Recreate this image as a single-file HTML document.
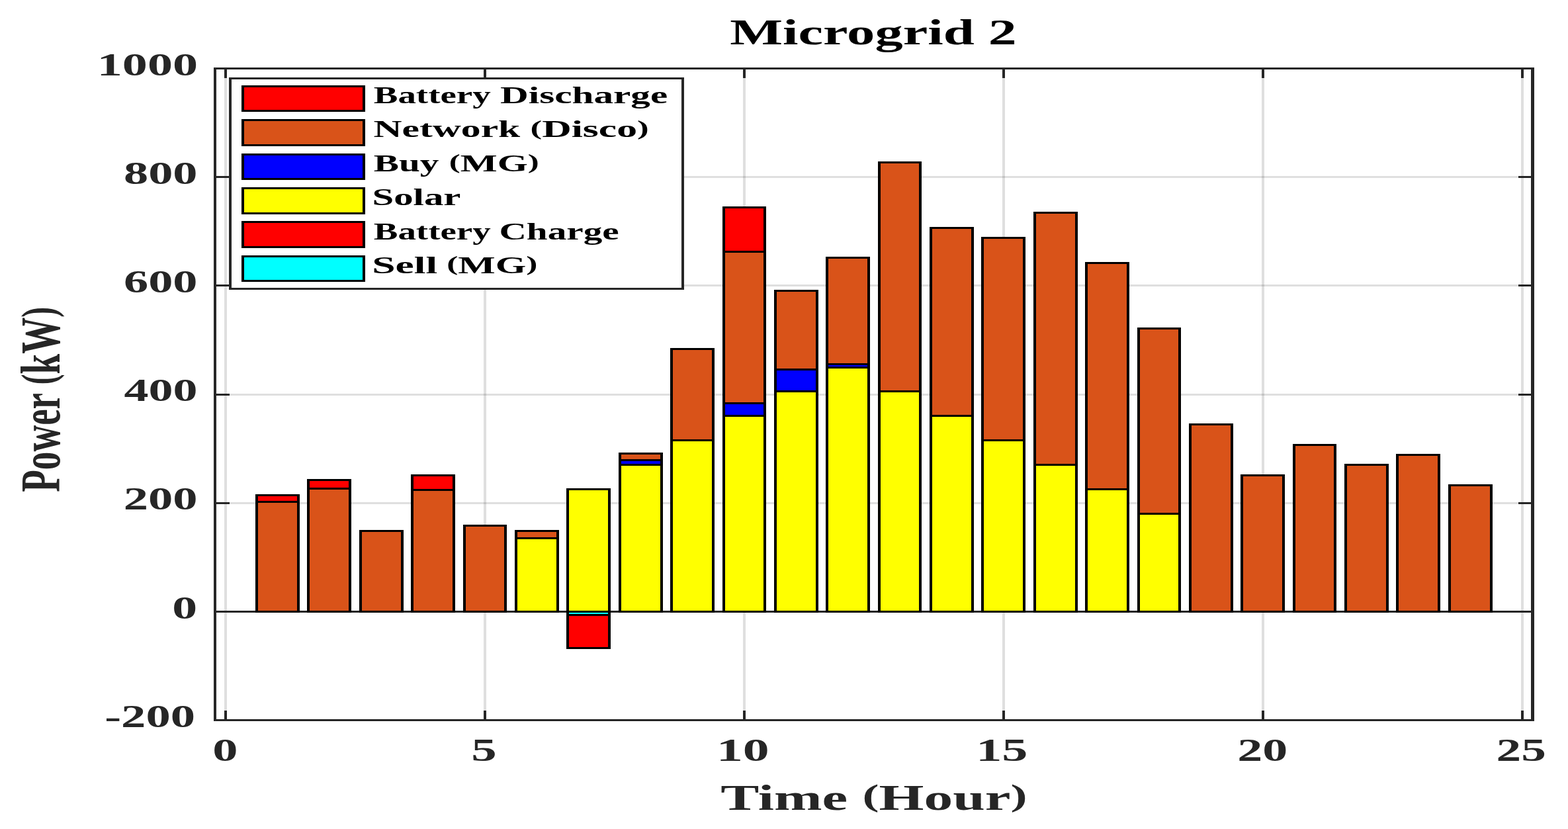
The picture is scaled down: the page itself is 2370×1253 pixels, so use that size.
<!DOCTYPE html>
<html lang="en">
<head>
<meta charset="utf-8">
<title>Microgrid 2</title>
<style>
html,body{margin:0;padding:0;background:#fff;}
body{width:2370px;height:1253px;overflow:hidden;}
svg{display:block;}
svg text{font-family:"Liberation Serif","DejaVu Serif",serif;font-weight:bold;}
</style>
</head>
<body>
<svg width="2370" height="1253" viewBox="0 0 2370 1253">
<rect x="0" y="0" width="2370" height="1253" fill="#fff"/>
<g shape-rendering="crispEdges">
<g fill="#262626" fill-opacity="0.15">
<rect x="339" y="105" width="4" height="982" fill="#262626"/>
<rect x="731" y="105" width="4" height="982" fill="#262626"/>
<rect x="1123" y="105" width="4" height="982" fill="#262626"/>
<rect x="1515" y="105" width="4" height="982" fill="#262626"/>
<rect x="1907" y="105" width="4" height="982" fill="#262626"/>
<rect x="2299" y="105" width="4" height="982" fill="#262626"/>
<rect x="327" y="266" width="1987" height="3" fill="#262626"/>
<rect x="327" y="430" width="1987" height="3" fill="#262626"/>
<rect x="327" y="595" width="1987" height="3" fill="#262626"/>
<rect x="327" y="759" width="1987" height="3" fill="#262626"/>
</g>
<rect x="339" y="105" width="4" height="13" fill="#262626"/>
<rect x="339" y="1074" width="4" height="13" fill="#262626"/>
<rect x="731" y="105" width="4" height="13" fill="#262626"/>
<rect x="731" y="1074" width="4" height="13" fill="#262626"/>
<rect x="1123" y="105" width="4" height="13" fill="#262626"/>
<rect x="1123" y="1074" width="4" height="13" fill="#262626"/>
<rect x="1515" y="105" width="4" height="13" fill="#262626"/>
<rect x="1515" y="1074" width="4" height="13" fill="#262626"/>
<rect x="1907" y="105" width="4" height="13" fill="#262626"/>
<rect x="1907" y="1074" width="4" height="13" fill="#262626"/>
<rect x="2299" y="105" width="4" height="13" fill="#262626"/>
<rect x="2299" y="1074" width="4" height="13" fill="#262626"/>
<rect x="327" y="266" width="20" height="3" fill="#262626"/>
<rect x="2295" y="266" width="19" height="3" fill="#262626"/>
<rect x="327" y="430" width="20" height="3" fill="#262626"/>
<rect x="2295" y="430" width="19" height="3" fill="#262626"/>
<rect x="327" y="595" width="20" height="3" fill="#262626"/>
<rect x="2295" y="595" width="19" height="3" fill="#262626"/>
<rect x="327" y="759" width="20" height="3" fill="#262626"/>
<rect x="2295" y="759" width="19" height="3" fill="#262626"/>
<rect x="327" y="923" width="1987" height="3" fill="#262626"/>
<rect x="386" y="747" width="67" height="179" fill="#000"/>
<rect x="390" y="750" width="59" height="7" fill="#ff0000"/>
<rect x="390" y="760" width="59" height="163" fill="#d95319"/>
<rect x="464" y="724" width="67" height="202" fill="#000"/>
<rect x="468" y="727" width="59" height="10" fill="#ff0000"/>
<rect x="468" y="740" width="59" height="183" fill="#d95319"/>
<rect x="543" y="801" width="67" height="125" fill="#000"/>
<rect x="547" y="804" width="59" height="119" fill="#d95319"/>
<rect x="621" y="717" width="67" height="209" fill="#000"/>
<rect x="625" y="720" width="59" height="19" fill="#ff0000"/>
<rect x="625" y="742" width="59" height="181" fill="#d95319"/>
<rect x="700" y="793" width="66" height="133" fill="#000"/>
<rect x="704" y="796" width="58" height="127" fill="#d95319"/>
<rect x="778" y="801" width="67" height="125" fill="#000"/>
<rect x="782" y="804" width="59" height="8" fill="#d95319"/>
<rect x="782" y="815" width="59" height="108" fill="#ffff00"/>
<rect x="856" y="738" width="67" height="188" fill="#000"/>
<rect x="860" y="741" width="59" height="182" fill="#ffff00"/>
<rect x="935" y="684" width="67" height="242" fill="#000"/>
<rect x="939" y="687" width="59" height="7" fill="#d95319"/>
<rect x="939" y="697" width="59" height="4" fill="#0000ff"/>
<rect x="939" y="704" width="59" height="219" fill="#ffff00"/>
<rect x="1013" y="526" width="67" height="400" fill="#000"/>
<rect x="1017" y="529" width="59" height="135" fill="#d95319"/>
<rect x="1017" y="667" width="59" height="256" fill="#ffff00"/>
<rect x="1092" y="312" width="66" height="614" fill="#000"/>
<rect x="1096" y="315" width="58" height="64" fill="#ff0000"/>
<rect x="1096" y="382" width="58" height="226" fill="#d95319"/>
<rect x="1096" y="611" width="58" height="16" fill="#0000ff"/>
<rect x="1096" y="630" width="58" height="293" fill="#ffff00"/>
<rect x="1170" y="438" width="67" height="488" fill="#000"/>
<rect x="1174" y="441" width="59" height="116" fill="#d95319"/>
<rect x="1174" y="560" width="59" height="30" fill="#0000ff"/>
<rect x="1174" y="593" width="59" height="330" fill="#ffff00"/>
<rect x="1248" y="388" width="67" height="538" fill="#000"/>
<rect x="1252" y="391" width="59" height="158" fill="#d95319"/>
<rect x="1252" y="552" width="59" height="2" fill="#0000ff"/>
<rect x="1252" y="557" width="59" height="366" fill="#ffff00"/>
<rect x="1327" y="244" width="66" height="682" fill="#000"/>
<rect x="1331" y="247" width="58" height="343" fill="#d95319"/>
<rect x="1331" y="593" width="58" height="330" fill="#ffff00"/>
<rect x="1405" y="343" width="67" height="583" fill="#000"/>
<rect x="1409" y="346" width="59" height="281" fill="#d95319"/>
<rect x="1409" y="630" width="59" height="293" fill="#ffff00"/>
<rect x="1483" y="358" width="67" height="568" fill="#000"/>
<rect x="1487" y="361" width="59" height="303" fill="#d95319"/>
<rect x="1487" y="667" width="59" height="256" fill="#ffff00"/>
<rect x="1562" y="320" width="67" height="606" fill="#000"/>
<rect x="1566" y="323" width="59" height="378" fill="#d95319"/>
<rect x="1566" y="704" width="59" height="219" fill="#ffff00"/>
<rect x="1640" y="396" width="67" height="530" fill="#000"/>
<rect x="1644" y="399" width="59" height="339" fill="#d95319"/>
<rect x="1644" y="741" width="59" height="182" fill="#ffff00"/>
<rect x="1719" y="495" width="66" height="431" fill="#000"/>
<rect x="1723" y="498" width="58" height="277" fill="#d95319"/>
<rect x="1723" y="778" width="58" height="145" fill="#ffff00"/>
<rect x="1797" y="640" width="67" height="286" fill="#000"/>
<rect x="1801" y="643" width="59" height="280" fill="#d95319"/>
<rect x="1875" y="717" width="67" height="209" fill="#000"/>
<rect x="1879" y="720" width="59" height="203" fill="#d95319"/>
<rect x="1954" y="671" width="66" height="255" fill="#000"/>
<rect x="1958" y="674" width="58" height="249" fill="#d95319"/>
<rect x="2032" y="701" width="67" height="225" fill="#000"/>
<rect x="2036" y="704" width="59" height="219" fill="#d95319"/>
<rect x="2110" y="686" width="67" height="240" fill="#000"/>
<rect x="2114" y="689" width="59" height="234" fill="#d95319"/>
<rect x="2189" y="732" width="67" height="194" fill="#000"/>
<rect x="2193" y="735" width="59" height="188" fill="#d95319"/>
<rect x="856" y="923" width="67" height="58" fill="#000"/>
<rect x="860" y="926" width="59" height="2" fill="#00ffff"/>
<rect x="860" y="931" width="59" height="47" fill="#ff0000"/>
<rect x="323" y="102" width="1996" height="3" fill="#262626"/>
<rect x="323" y="1087" width="1996" height="3" fill="#262626"/>
<rect x="323" y="102" width="4" height="988" fill="#262626"/>
<rect x="2314" y="102" width="5" height="988" fill="#262626"/>
<rect x="346" y="117" width="688" height="321" fill="#262626"/>
<rect x="350" y="120" width="680" height="315" fill="#fff"/>
<rect x="365" y="129" width="187" height="40" fill="#000"/>
<rect x="369" y="132" width="179" height="34" fill="#ff0000"/>
<rect x="365" y="180" width="187" height="41" fill="#000"/>
<rect x="369" y="183" width="179" height="35" fill="#d95319"/>
<rect x="365" y="232" width="187" height="40" fill="#000"/>
<rect x="369" y="235" width="179" height="34" fill="#0000ff"/>
<rect x="365" y="283" width="187" height="41" fill="#000"/>
<rect x="369" y="286" width="179" height="35" fill="#ffff00"/>
<rect x="365" y="334" width="187" height="41" fill="#000"/>
<rect x="369" y="337" width="179" height="35" fill="#ff0000"/>
<rect x="365" y="386" width="187" height="40" fill="#000"/>
<rect x="369" y="389" width="179" height="34" fill="#00ffff"/>
</g>
<g>
<text font-size="55.6" fill="#000"><tspan x="1103.25" y="66.7" textLength="369.5" lengthAdjust="spacingAndGlyphs">Microgrid</tspan> <tspan x="1493.65" y="66.7" textLength="42.95" lengthAdjust="spacingAndGlyphs">2</tspan></text>
<text font-size="55.0" fill="#262626"><tspan x="1089.24" y="1223.6" textLength="192.01" lengthAdjust="spacingAndGlyphs">Time</tspan> <tspan x="1303.46" y="1223.6" textLength="249.09" lengthAdjust="spacingAndGlyphs"><tspan font-size="47.3" dy="-5.34">(</tspan><tspan dy="5.34">Hour</tspan><tspan font-size="47.3" dy="-5.34">)</tspan></tspan></text>
<text font-size="36.4" fill="#000"><tspan x="564.76" y="156.05" textLength="176.99" lengthAdjust="spacingAndGlyphs">Battery</tspan> <tspan x="756.0" y="156.05" textLength="253.25" lengthAdjust="spacingAndGlyphs">Discharge</tspan></text>
<text font-size="36.4" fill="#000"><tspan x="564.51" y="207.45" textLength="221.74" lengthAdjust="spacingAndGlyphs">Network</tspan> <tspan x="801.48" y="207.45" textLength="179.29" lengthAdjust="spacingAndGlyphs"><tspan font-size="31.3" dy="-3.54">(</tspan><tspan dy="3.54">Disco</tspan><tspan font-size="31.3" dy="-3.54">)</tspan></tspan></text>
<text font-size="36.4" fill="#000"><tspan x="564.77" y="258.75" textLength="98.73" lengthAdjust="spacingAndGlyphs">Buy</tspan> <tspan x="678.73" y="258.75" textLength="136.05" lengthAdjust="spacingAndGlyphs"><tspan font-size="31.3" dy="-3.54">(</tspan><tspan dy="3.54">MG</tspan><tspan font-size="31.3" dy="-3.54">)</tspan></tspan></text>
<text font-size="36.4" fill="#000"><tspan x="562.47" y="310.15" textLength="134.04" lengthAdjust="spacingAndGlyphs">Solar</tspan></text>
<text font-size="36.4" fill="#000"><tspan x="564.76" y="361.5" textLength="176.99" lengthAdjust="spacingAndGlyphs">Battery</tspan> <tspan x="754.48" y="361.5" textLength="181.28" lengthAdjust="spacingAndGlyphs">Charge</tspan></text>
<text font-size="36.4" fill="#000"><tspan x="562.21" y="412.9" textLength="99.05" lengthAdjust="spacingAndGlyphs">Sell</tspan> <tspan x="675.23" y="412.9" textLength="137.31" lengthAdjust="spacingAndGlyphs"><tspan font-size="31.3" dy="-3.54">(</tspan><tspan dy="3.54">MG</tspan><tspan font-size="31.3" dy="-3.54">)</tspan></tspan></text>
<text font-size="48.5" fill="#262626"><tspan x="146.75" y="113.6" textLength="152.36" lengthAdjust="spacingAndGlyphs">1000</tspan></text>
<text font-size="48.5" fill="#262626"><tspan x="186.94" y="277.8" textLength="111.63" lengthAdjust="spacingAndGlyphs">800</tspan></text>
<text font-size="48.5" fill="#262626"><tspan x="186.94" y="441.9" textLength="111.63" lengthAdjust="spacingAndGlyphs">600</tspan></text>
<text font-size="48.5" fill="#262626"><tspan x="187.49" y="606.1" textLength="111.04" lengthAdjust="spacingAndGlyphs">400</tspan></text>
<text font-size="48.5" fill="#262626"><tspan x="186.65" y="770.3" textLength="111.92" lengthAdjust="spacingAndGlyphs">200</tspan></text>
<text font-size="48.5" fill="#262626"><tspan x="260.31" y="934.5" textLength="37.9" lengthAdjust="spacingAndGlyphs">0</tspan></text>
<text font-size="48.5" fill="#262626"><tspan x="158.21" y="1098.6" textLength="136.86" lengthAdjust="spacingAndGlyphs">-200</tspan></text>
<text font-size="49" fill="#262626"><tspan x="321.28" y="1149.8" textLength="38.21" lengthAdjust="spacingAndGlyphs">0</tspan></text>
<text font-size="49" fill="#262626"><tspan x="712.25" y="1149.8" textLength="38.45" lengthAdjust="spacingAndGlyphs">5</tspan></text>
<text font-size="49" fill="#262626"><tspan x="1082.97" y="1149.8" textLength="79.79" lengthAdjust="spacingAndGlyphs">10</tspan></text>
<text font-size="49" fill="#262626"><tspan x="1475.26" y="1149.8" textLength="78.24" lengthAdjust="spacingAndGlyphs">15</tspan></text>
<text font-size="49" fill="#262626"><tspan x="1870.38" y="1149.8" textLength="75.99" lengthAdjust="spacingAndGlyphs">20</tspan></text>
<text font-size="49" fill="#262626"><tspan x="2261.61" y="1149.8" textLength="75.25" lengthAdjust="spacingAndGlyphs">25</tspan></text>
<text transform="translate(90.3 603.91) scale(1.5382 1) rotate(-90)" font-size="55.056" fill="#262626" text-anchor="middle">Power <tspan font-size="47.35" dy="-5.35">(</tspan><tspan dy="5.35">kW</tspan><tspan font-size="47.35" dy="-5.35">)</tspan></text>
</g>
</svg>
</body>
</html>
